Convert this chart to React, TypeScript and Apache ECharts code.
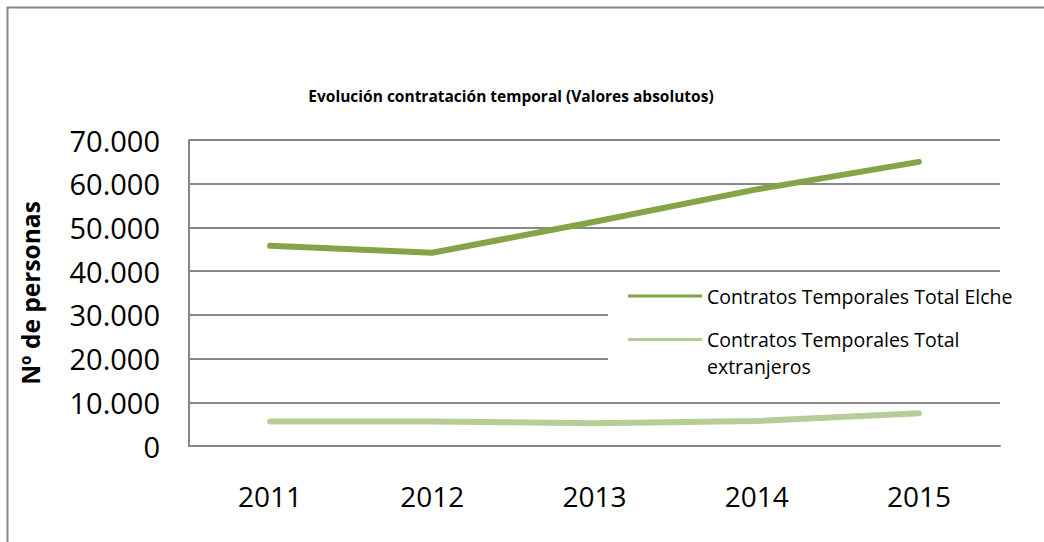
import React, { useEffect, useRef } from "react";
import * as echarts from "echarts";

const years = ["2011", "2012", "2013", "2014", "2015"];
const elche = [45800, 44200, 51300, 58700, 65000];
const extranjeros = [5600, 5600, 5200, 5700, 7500];
const seriesNames = ["Contratos Temporales Total Elche", "Contratos Temporales Total extranjeros"];
const titleText = "Evolución contratación temporal (Valores absolutos)";
const yAxisName = "Nº de personas";

const fmt = (v: number) => String(v).replace(/\B(?=(\d{3})+(?!\d))/g, ".");

export default function App() {
  const ref = useRef<HTMLDivElement>(null);
  useEffect(() => {
    if (!ref.current) return;
    const chart = echarts.init(ref.current, undefined, { renderer: "svg" });
    const font = "'Open Sans', sans-serif";
    chart.setOption({
      animation: false,
      backgroundColor: "#ffffff",
      textStyle: { fontFamily: font },
      title: {
        text: titleText,
        left: 506,
        top: 83,
        textAlign: "center",
        textStyle: { fontFamily: font, fontSize: 15.5, fontWeight: "bold", color: "#000" },
      },
      grid: { left: 189, right: 44, top: 140, bottom: 96, containLabel: false },
      legend: [
        {
          data: [seriesNames[0]],
          left: 623,
          top: 281,
          orient: "vertical",
          icon: "rect",
          itemWidth: 74,
          itemHeight: 3,
          textStyle: { fontFamily: font, fontSize: 19.5, color: "#000" },
          selectedMode: false,
        },
        {
          data: [seriesNames[1]],
          left: 623,
          top: 294,
          orient: "vertical",
          icon: "rect",
          itemWidth: 74,
          itemHeight: 3,
          formatter: () => "\nContratos Temporales Total\nextranjeros",
          textStyle: { fontFamily: font, fontSize: 19.5, lineHeight: 27, color: "#000" },
          selectedMode: false,
        },
      ],
      graphic: [
        {
          type: "rect",
          z: 1,
          shape: { x: 7.5, y: 7.5, width: 1100, height: 600 },
          style: { fill: "none", stroke: "#878787", lineWidth: 2 },
          silent: true,
        },
        {
          type: "rect",
          z: 1,
          shape: { x: 608, y: 275, width: 392, height: 123 },
          style: { fill: "#ffffff" },
          silent: true,
        },
      ],
      xAxis: {
        type: "category",
        data: years,
        boundaryGap: true,
        axisLine: { show: true, lineStyle: { color: "#878787", width: 2 } },
        axisTick: { show: false },
        axisLabel: { fontFamily: font, fontSize: 28, color: "#000", margin: 36 },
        splitLine: { show: false },
      },
      yAxis: {
        type: "value",
        min: 0,
        max: 70000,
        interval: 10000,
        name: yAxisName,
        nameLocation: "middle",
        nameRotate: 90,
        nameGap: 146,
        nameTextStyle: { fontFamily: font, fontSize: 24.5, fontWeight: "bold", color: "#000" },
        axisLine: { show: true, lineStyle: { color: "#878787", width: 2 } },
        axisTick: { show: false },
        axisLabel: { fontFamily: font, fontSize: 29, color: "#000", margin: 29, formatter: (v: number) => fmt(v) },
        splitLine: { show: true, lineStyle: { color: "#878787", width: 2 } },
      },
      series: [
        {
          name: seriesNames[0],
          type: "line",
          data: elche,
          symbol: "none",
          z: 3,
          lineStyle: { color: "#85A447", width: 6, cap: "round", join: "round" },
          itemStyle: { color: "#85A447" },
        },
        {
          name: seriesNames[1],
          type: "line",
          data: extranjeros,
          symbol: "none",
          z: 3,
          lineStyle: { color: "#B6CD95", width: 6, cap: "round", join: "round" },
          itemStyle: { color: "#B6CD95" },
        },
      ],
    });
    return () => chart.dispose();
  }, []);
  return (
    <div
      ref={ref}
      style={{ position: "absolute", left: 0, top: 0, width: 1044, height: 542 }}
    />
  );
}
